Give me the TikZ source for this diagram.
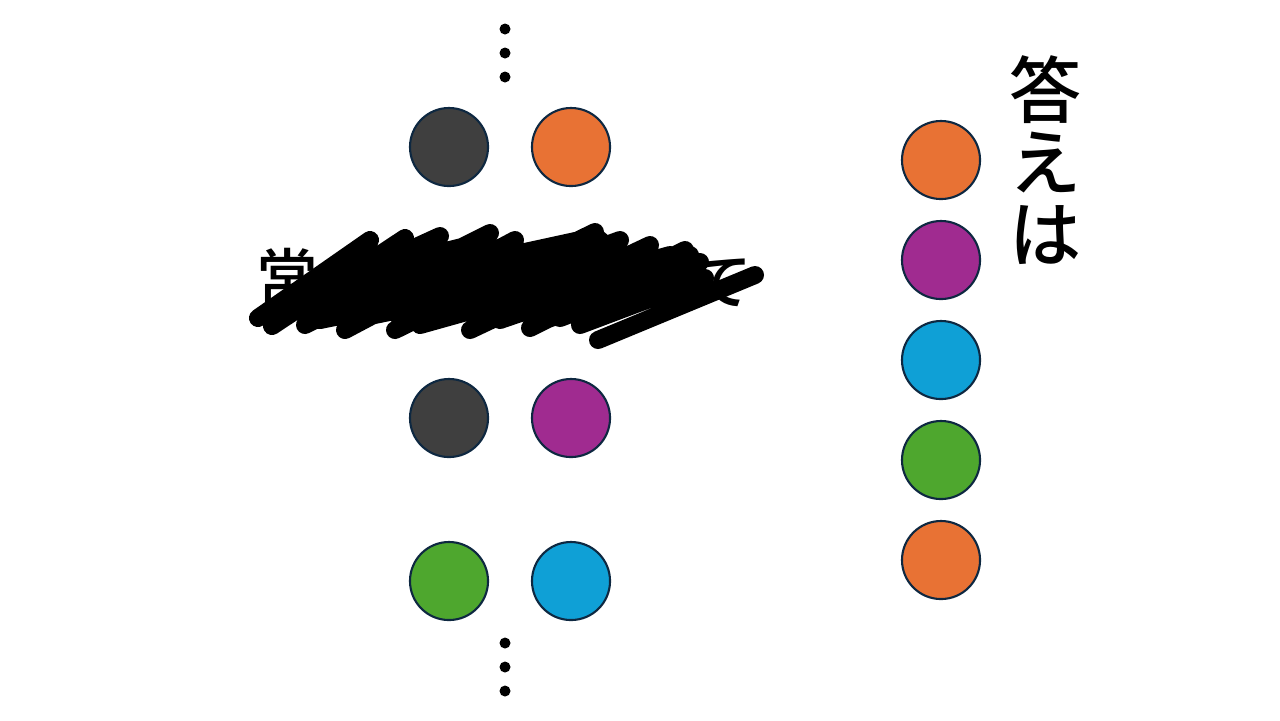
\documentclass[tikz,border=0pt]{standalone}
\usepackage{fontspec}
\setmainfont{Noto Sans CJK JP}[UprightFont={* Medium}]
\usepackage{xcolor}
\usepackage{tikz}
\usetikzlibrary{positioning}

\definecolor{ballline}{HTML}{0E2841}
\definecolor{ballgray}{HTML}{3F3F3F}
\definecolor{ballorange}{HTML}{E87234}
\definecolor{ballpurple}{HTML}{A02B90}
\definecolor{ballblue}{HTML}{0FA0D6}
\definecolor{ballgreen}{HTML}{4EA72E}

\begin{document}
\begin{tikzpicture}[
    x=0.01cm, y=-0.01cm,
    ball/.style={circle, minimum size=0.78cm, inner sep=0pt, draw=ballline, line width=0.6pt},
    dot/.style={circle, minimum size=0.11cm, inner sep=0pt, fill=black},
    bigtext/.style={font=\fontsize{17.6pt}{17.6pt}\selectfont, inner sep=0pt},
    answer/.style={font=\fontsize{20.5pt}{20.5pt}\selectfont, inner sep=0pt, align=center},
    scribble/.style={line width=0.18cm, line cap=round, line join=round},
]
\useasboundingbox (0,0) rectangle (1280,720);

% top and bottom dots
\node[dot] (top1) at (505,29) {};
\node[dot] (top2) at (505,53) {};
\node[dot] (top3) at (505,77) {};
\node[dot] (bot1) at (505,643) {};
\node[dot] (bot2) at (505,667) {};
\node[dot] (bot3) at (505,691) {};

% left pairs
\node[ball, fill=ballgray]   (pairA1) at (449,147) {};
\node[ball, fill=ballorange] (pairA2) at (571,147) {};
\node[ball, fill=ballgray]   (pairB1) at (449,418) {};
\node[ball, fill=ballpurple] (pairB2) at (571,418) {};
\node[ball, fill=ballgreen]  (pairC1) at (449,581) {};
\node[ball, fill=ballblue]   (pairC2) at (571,581) {};

% answer column
\node[ball, fill=ballorange] (ans1) at (941,160) {};
\node[ball, fill=ballpurple] (ans2) at (941,260) {};
\node[ball, fill=ballblue]   (ans3) at (941,360) {};
\node[ball, fill=ballgreen]  (ans4) at (941,460) {};
\node[ball, fill=ballorange] (ans5) at (941,560) {};
\node[answer] (kotae) at (1046,160) {答\\え\\は};

% crossed-out sentence
\node[bigtext] (first) at (287,277) {常};
\node[bigtext] (last)  at (721,283) {て};
\draw[scribble] (258,318) -- (370,240) (272,326) -- (405,238) (305,325) -- (490,233)
    (345,330) -- (515,240) (395,330) -- (595,232) (400,320) -- (620,240)
    (470,330) -- (650,245) (530,328) -- (685,250) (598,340) -- (755,275)
    (300,300) -- (440,236) (300,310) -- (560,250) (440,310) -- (600,255)
    (560,310) -- (640,270) (380,300) -- (520,258) (470,300) -- (590,262)
    (280,315) -- (600,240) (320,320) -- (640,255) (420,325) -- (670,255)
    (500,320) -- (690,255) (350,290) -- (580,240) (270,310) -- (380,255)
    (360,318) -- (630,262) (540,322) -- (700,262) (330,280) -- (470,245)
    (580,325) -- (705,278) (560,318) -- (680,272);
\end{tikzpicture}
\end{document}
